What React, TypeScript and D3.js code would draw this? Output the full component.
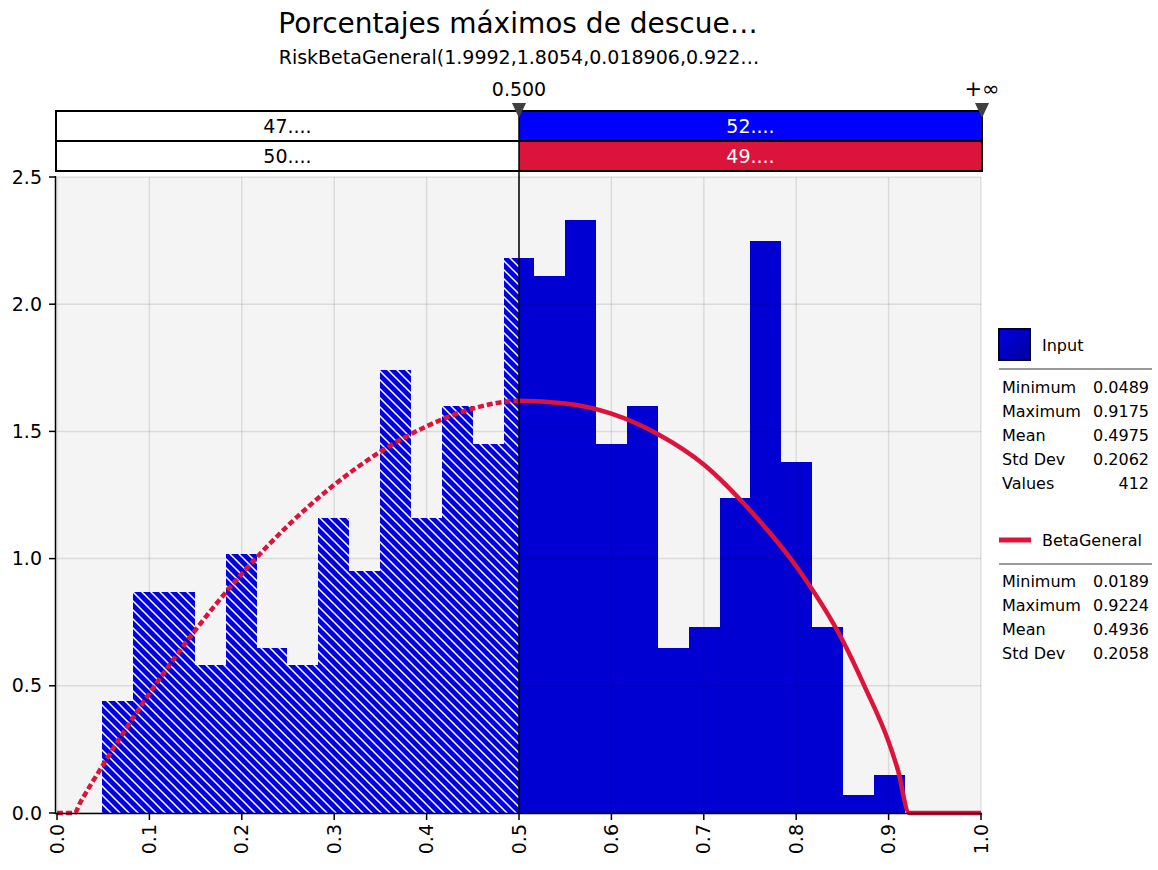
import React from "react";
import * as d3 from "d3";

const titleText = "Porcentajes máximos de descue…";
const subtitleText = "RiskBetaGeneral(1.9992,1.8054,0.018906,0.922…";

// Histogram (density)
const binStart = 0.0489;
const binWidth = 0.03341;
const binDensity = [
  0.44, 0.87, 0.87, 0.58, 1.02, 0.65, 0.58, 1.16, 0.95, 1.74, 1.16, 1.6, 1.45,
  2.18, 2.11, 2.33, 1.45, 1.6, 0.65, 0.73, 1.24, 2.25, 1.38, 0.73, 0.07, 0.15,
];

// Fitted BetaGeneral curve
const curveX = [
  0, 0.0189, 0.025, 0.05, 0.1, 0.15, 0.2, 0.25, 0.3, 0.35, 0.4, 0.45, 0.5, 0.55,
  0.6, 0.65, 0.7, 0.75, 0.8, 0.85, 0.875, 0.9, 0.91, 0.9224, 1.0,
];
const curveY = [
  0, 0, 0.04, 0.19, 0.47, 0.72, 0.94, 1.13, 1.29, 1.42, 1.52, 1.59, 1.62, 1.61,
  1.57, 1.49, 1.37, 1.19, 0.97, 0.68, 0.49, 0.28, 0.17, 0, 0,
];

const xTicks = [0, 0.1, 0.2, 0.3, 0.4, 0.5, 0.6, 0.7, 0.8, 0.9, 1.0];
const yTicks = [0, 0.5, 1.0, 1.5, 2.0, 2.5];

const delimiterValue = 0.5;
const delimiterLabels = ["0.500", "+∞"];
const inputPercents = ["47....", "52...."];
const fitPercents = ["50....", "49...."];

const inputStatLabels = ["Minimum", "Maximum", "Mean", "Std Dev", "Values"];
const inputStatValues = ["0.0489", "0.9175", "0.4975", "0.2062", "412"];
const fitStatLabels = ["Minimum", "Maximum", "Mean", "Std Dev"];
const fitStatValues = ["0.0189", "0.9224", "0.4936", "0.2058"];

const FONT = "'DejaVu Sans', Verdana, sans-serif";
const BAR_BLUE = "#0000d2";
const HATCH_BLUE = "#0000e0";
const RED = "#dc143c";

export default function App() {
  const W = 1158;
  const H = 870;
  const x = d3.scaleLinear().domain([0, 1]).range([57, 981]);
  const y = d3.scaleLinear().domain([0, 2.5]).range([813, 177]);

  const bars = binDensity.map((d, i) => {
    const x0 = binStart + i * binWidth;
    const x1 = x0 + binWidth;
    return { x0, x1, d };
  });

  const pts: [number, number][] = curveX.map((v, i) => [v, curveY[i]]);
  const line = d3
    .line<[number, number]>()
    .x((p) => x(p[0]))
    .y((p) => y(p[1]))
    .curve(d3.curveMonotoneX);
  const curvePath = line(pts) || "";

  const xd = x(delimiterValue);
  const plotL = x(0);
  const plotR = x(1);
  const plotT = y(2.5);
  const plotB = y(0);

  const boxL = 56;
  const boxR = 982;
  const boxT = 111;
  const boxM = 141;
  const boxB = 171;

  const barsEls = (fill: string) =>
    bars.map((b, i) => (
      <rect
        key={i}
        x={x(b.x0)}
        y={y(b.d)}
        width={x(b.x1) - x(b.x0)}
        height={y(0) - y(b.d)}
        fill={fill}
        shapeRendering="crispEdges"
      />
    ));

  const legX = 999;
  const statL = 1002;
  const statR = 1149;

  return (
    <svg
      width={W}
      height={H}
      style={{ position: "absolute", left: 0, top: 0, display: "block", background: "#fff" }}
      fontFamily={FONT}
    >
      <defs>
        <pattern id="hatch" patternUnits="userSpaceOnUse" width="9" height="9">
          <rect width="9" height="9" fill={HATCH_BLUE} />
          <path d="M-1,-1 L10,10 M8,-1 L10,1 M-1,8 L1,10" stroke="#fff" strokeWidth="1.5" />
        </pattern>
        <clipPath id="leftClip">
          <rect x={0} y={0} width={xd} height={H} />
        </clipPath>
        <clipPath id="rightClip">
          <rect x={xd} y={0} width={W - xd} height={H} />
        </clipPath>
        <linearGradient id="legGrad" x1="0" y1="0" x2="1" y2="1">
          <stop offset="0" stopColor="#0000e6" />
          <stop offset="1" stopColor="#00009c" />
        </linearGradient>
      </defs>

      {/* Titles */}
      <text x={518} y={33} textAnchor="middle" fontSize={28} fill="#000">
        {titleText}
      </text>
      <text x={519} y={64} textAnchor="middle" fontSize={19} fill="#000">
        {subtitleText}
      </text>

      {/* Plot background */}
      <rect x={plotL} y={plotT} width={plotR - plotL} height={plotB - plotT} fill="#f4f4f4" />

      {/* Bars */}
      <g clipPath="url(#rightClip)">{barsEls(BAR_BLUE)}</g>
      <g clipPath="url(#leftClip)">{barsEls("url(#hatch)")}</g>

      {/* Grid on top, translucent */}
      <g stroke="rgba(0,0,0,0.1)" strokeWidth={1.5}>
        {xTicks.map((t) => (
          <line key={"gx" + t} x1={x(t)} x2={x(t)} y1={plotT} y2={plotB} />
        ))}
        {yTicks.map((t) => (
          <line key={"gy" + t} x1={plotL} x2={plotR} y1={y(t)} y2={y(t)} />
        ))}
      </g>

      {/* Fitted curve */}
      <g clipPath="url(#leftClip)">
        <path d={curvePath} fill="none" stroke={RED} strokeWidth={4.5} strokeDasharray="6,3" />
      </g>
      <g clipPath="url(#rightClip)">
        <path d={curvePath} fill="none" stroke={RED} strokeWidth={4.5} />
      </g>

      {/* Axes */}
      <line x1={55.5} x2={55.5} y1={176} y2={814} stroke="#000" strokeWidth={1.5} />
      <line x1={55} x2={plotR + 1} y1={813.5} y2={813.5} stroke="#000" strokeWidth={1.5} />
      {yTicks.map((t) => (
        <g key={"yt" + t}>
          <line x1={49} x2={55} y1={y(t)} y2={y(t)} stroke="#000" strokeWidth={1.5} />
          <text x={42} y={y(t)} dy="0.35em" textAnchor="end" fontSize={19} fill="#000">
            {t.toFixed(1)}
          </text>
        </g>
      ))}
      {xTicks.map((t) => (
        <g key={"xt" + t}>
          <line x1={x(t)} x2={x(t)} y1={814} y2={820} stroke="#000" strokeWidth={1.5} />
          <text
            transform={`translate(${x(t)},824) rotate(-90)`}
            dy="0.35em"
            textAnchor="end"
            fontSize={19}
            fill="#000"
          >
            {t.toFixed(1)}
          </text>
        </g>
      ))}

      {/* Delimiter bars */}
      <rect x={boxL} y={boxT} width={xd - boxL} height={boxM - boxT} fill="#fff" />
      <rect x={xd} y={boxT} width={boxR - xd} height={boxM - boxT} fill="#0000ff" />
      <rect x={boxL} y={boxM} width={xd - boxL} height={boxB - boxM} fill="#fff" />
      <rect x={xd} y={boxM} width={boxR - xd} height={boxB - boxM} fill={RED} />
      <rect x={boxL} y={boxT} width={boxR - boxL} height={boxB - boxT} fill="none" stroke="#000" strokeWidth={2} />
      <line x1={boxL} x2={boxR} y1={boxM} y2={boxM} stroke="#000" strokeWidth={2} />
      <text x={(boxL + xd) / 2} y={(boxT + boxM) / 2} dy="0.35em" textAnchor="middle" fontSize={19} fill="#000">
        {inputPercents[0]}
      </text>
      <text x={(xd + boxR) / 2} y={(boxT + boxM) / 2} dy="0.35em" textAnchor="middle" fontSize={19} fill="#fff">
        {inputPercents[1]}
      </text>
      <text x={(boxL + xd) / 2} y={(boxM + boxB) / 2} dy="0.35em" textAnchor="middle" fontSize={19} fill="#000">
        {fitPercents[0]}
      </text>
      <text x={(xd + boxR) / 2} y={(boxM + boxB) / 2} dy="0.35em" textAnchor="middle" fontSize={19} fill="#fff">
        {fitPercents[1]}
      </text>

      {/* Delimiter line */}
      <line x1={xd} x2={xd} y1={104} y2={plotB} stroke="#000" strokeWidth={1.5} />

      {/* Markers */}
      {[xd, boxR].map((mx, i) => (
        <g key={"m" + i}>
          <path d={`M${mx - 7},103 L${mx + 7},103 L${mx},118 Z`} fill="#404040" />
          <text x={mx} y={96} textAnchor="middle" fontSize={i === 1 ? 21 : 19} fill="#000">
            {delimiterLabels[i]}
          </text>
        </g>
      ))}

      {/* Legend: Input */}
      <rect x={legX} y={329} width={31} height={31} fill="url(#legGrad)" stroke="#000030" strokeWidth={2} />
      <text x={1042} y={345} dy="0.35em" fontSize={16} fill="#000">
        Input
      </text>
      <line x1={legX} x2={1152} y1={369} y2={369} stroke="#999" strokeWidth={2} />
      {inputStatLabels.map((l, i) => (
        <g key={"is" + i}>
          <text x={statL} y={387 + i * 24} dy="0.35em" fontSize={16} fill="#000">
            {l}
          </text>
          <text x={statR} y={387 + i * 24} dy="0.35em" textAnchor="end" fontSize={16} fill="#000">
            {inputStatValues[i]}
          </text>
        </g>
      ))}

      {/* Legend: BetaGeneral */}
      <line x1={legX} x2={1031} y1={540} y2={540} stroke={RED} strokeWidth={5} />
      <text x={1042} y={540} dy="0.35em" fontSize={16} fill="#000">
        BetaGeneral
      </text>
      <line x1={legX} x2={1152} y1={564} y2={564} stroke="#999" strokeWidth={2} />
      {fitStatLabels.map((l, i) => (
        <g key={"fs" + i}>
          <text x={statL} y={581 + i * 24} dy="0.35em" fontSize={16} fill="#000">
            {l}
          </text>
          <text x={statR} y={581 + i * 24} dy="0.35em" textAnchor="end" fontSize={16} fill="#000">
            {fitStatValues[i]}
          </text>
        </g>
      ))}
    </svg>
  );
}
